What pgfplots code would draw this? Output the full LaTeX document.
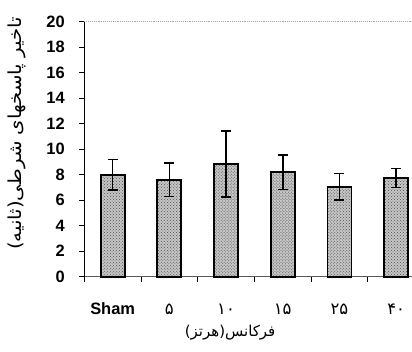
\documentclass[border=0pt]{standalone}
\usepackage{fontspec}
\setmainfont{Liberation Sans}
\newfontfamily\arabicfont[Script=Arabic]{DejaVu Sans}
\usepackage{pgfplots}
\pgfplotsset{compat=1.18}
\usetikzlibrary{patterns}
\TeXXeTstate=1
\pgfplotstableread{
x y e
0 8.0 1.2
1 7.6 1.3
2 8.85 2.6
3 8.2 1.35
4 7.05 1.05
5 7.75 0.75
}\datatable
\begin{document}
\begin{tikzpicture}
\begin{axis}[
  scale only axis, width=327.7bp, height=255bp,
  xmin=-0.5, xmax=5.28, ymin=0, ymax=20,
  axis x line*=bottom, axis y line*=left,
  x axis line style={-, gray!70!black, line width=1bp},
  y axis line style={-, black, line width=1.3bp},
  ybar, bar width=24bp,
  xtick={-0.5,0.5,1.5,2.5,3.5,4.5},
  xticklabels={},
  extra x ticks={0,1,2,3,4,5},
  extra x tick labels={Sham,{\mdseries\arabicfont ۵},{\mdseries\arabicfont ۱۰},{\mdseries\arabicfont ۱۵},{\mdseries\arabicfont ۲۵},{\mdseries\arabicfont ۴۰}},
  extra x tick style={major tick length=0pt},
  xtick style={black, line width=0.8bp},
  ytick={0,2,...,20},
  major tick length=5bp,
  tick align=outside,
  ytick style={black, line width=1.2bp},
  /pgf/number format/assume math mode=true,
  ticklabel style={font=\fontsize{16.5}{18}\selectfont\bfseries},
  yticklabel style={anchor=east, xshift=-11bp},
  xticklabel style={anchor=base, yshift=-38bp},
  xlabel={\arabicfont\beginR فرکانس(هرتز)\endR},
  xlabel style={at={(axis description cs:0.445,-0.22)}, anchor=center, font=\fontsize{15}{15}\selectfont},
  ylabel={\scalebox{1.1}[1]{\arabicfont\beginR تاخیر پاسخهای شرطی(ثانیه)\endR}},
  ylabel style={at={(axis description cs:-0.205,0.5616)}, anchor=center, font=\fontsize{18}{20}\selectfont},
  clip=false,
]
\addplot[draw=black, line width=1.8bp, fill=gray!45,
  postaction={pattern=crosshatch dots, pattern color=gray!60!black},
  error bars/.cd, y dir=both, y explicit,
  error bar style={line width=1.6bp, black},
  error mark options={rotate=90, mark size=5bp, line width=1.6bp, black}]
  table[x=x, y=y, y error=e] {\datatable};
\draw[gray!70, densely dotted, line width=0.9bp] (rel axis cs:0,1) -- (rel axis cs:1,1);
\end{axis}
\pgfresetboundingbox
\path (-84.3bp,-75.3bp) rectangle (327.7bp,276.7bp);
\end{tikzpicture}
\end{document}
